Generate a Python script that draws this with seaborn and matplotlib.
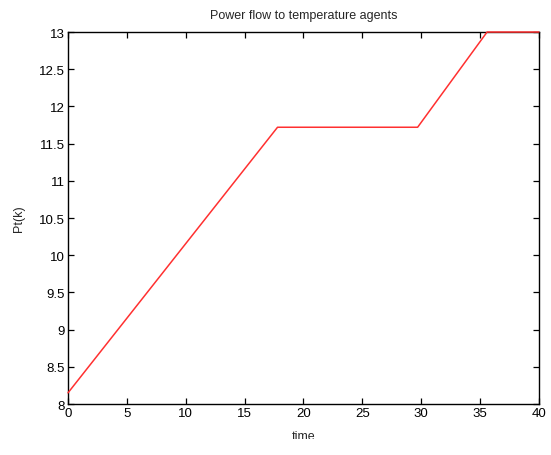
import matplotlib
matplotlib.use("Agg")
import matplotlib.pyplot as plt
import seaborn as sns
import pandas as pd
from matplotlib.patches import Rectangle

time = [0, 17.8, 29.7, 35.6, 40]
power = [8.15, 11.72, 11.72, 13.0, 13.0]
xticks = [0, 5, 10, 15, 20, 25, 30, 35, 40]
yticks = [8, 8.5, 9, 9.5, 10, 10.5, 11, 11.5, 12, 12.5, 13]

sns.set_style("white")
plt.rcParams['font.family'] = ['Liberation Sans', 'DejaVu Sans']

df = pd.DataFrame({"time": time, "Pt(k)": power})

fig = plt.figure(figsize=(5.51, 4.56), dpi=100)
ax = fig.add_axes([0.1234, 0.1118, 0.978 - 0.1234, 0.9276 - 0.1118])
sns.lineplot(data=df, x="time", y="Pt(k)", ax=ax, color="#ff3030", linewidth=1.1)
for ln in ax.lines:
    ln.set_clip_on(False)
    ln.set_zorder(3)

ax.set_xlim(0, 40)
ax.set_ylim(8, 13)
ax.set_xticks(xticks)
ax.set_yticks(yticks)
ax.set_xticklabels([f"{t:g}" for t in xticks], fontsize=9.5)
ax.set_yticklabels([f"{t:g}" for t in yticks], fontsize=9.5)
ax.tick_params(direction="in", length=4, width=0.9, top=True, right=True,
               bottom=True, left=True, pad=2, colors="black")
for s in ax.spines.values():
    s.set_visible(True)
    s.set_color("black")
    s.set_linewidth(1.0)
    s.set_zorder(2)

ax.set_title("Power flow to temperature agents", fontsize=9, pad=10)
ax.set_ylabel("Pt(k)", fontsize=9, labelpad=10)
ax.set_xlabel("time", fontsize=9, labelpad=8)

fig.add_artist(Rectangle((0, 0), 1, 16 / 456, transform=fig.transFigure,
                         facecolor="white", edgecolor="none", zorder=10))

fig.savefig("out.png", dpi=100, facecolor="white")
